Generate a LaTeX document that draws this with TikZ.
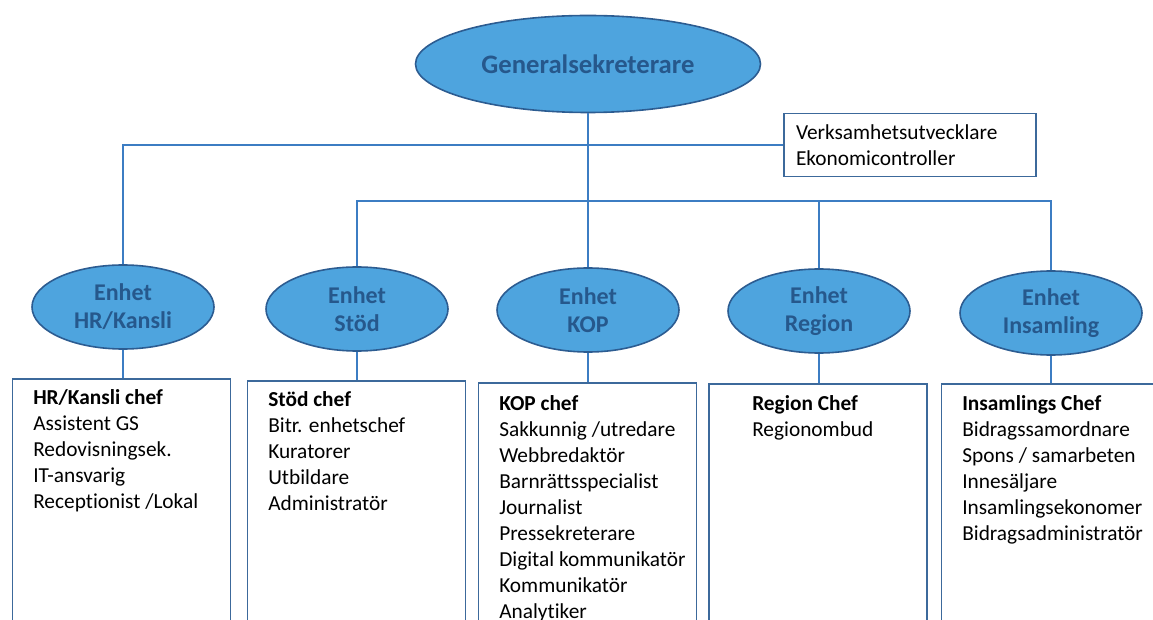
\documentclass[tikz,border=0pt]{standalone}
\usepackage{fontspec}
\setmainfont{Carlito}[Ligatures=NoCommon]
\usetikzlibrary{shapes.geometric}
\definecolor{efill}{RGB}{78,164,222}
\definecolor{eborder}{RGB}{44,92,145}
\definecolor{etext}{RGB}{38,88,140}
\definecolor{conn}{RGB}{60,125,195}
\definecolor{bborder}{RGB}{60,105,155}
\begin{document}
\begin{tikzpicture}[x=0.75pt,y=-0.75pt,
  topell/.style={ellipse, draw=eborder, line width=1.2pt, fill=efill, minimum width=258.75pt, minimum height=72.75pt, inner sep=0pt, text=etext, font=\fontsize{20}{24}\selectfont\bfseries},
  unit/.style={ellipse, draw=eborder, line width=1.2pt, fill=efill, minimum width=136.5pt, minimum height=63pt, inner sep=0pt, text=etext, font=\fontsize{18}{21}\selectfont\bfseries, align=center},
  unitbox/.style={rectangle, draw=bborder, line width=1pt, minimum width=163.5pt, minimum height=195pt, inner sep=0pt},
  sidebox/.style={rectangle, draw=bborder, line width=1pt, minimum width=189pt, minimum height=47.25pt, text width=171pt, inner xsep=9pt, inner ysep=0pt, align=left, font=\fontsize{16}{19.5}\selectfont},
  stafflist/.style={anchor=north west, align=left, inner sep=0pt, font=\fontsize{16}{19.5}\selectfont, text=black},
  connector/.style={draw=conn, line width=0.8pt}
]
\useasboundingbox (0,0) rectangle (1153,620);
\clip (0,0) rectangle (1153,620);

% top
\node[topell] (gs) at (588,64) {Generalsekreterare};
\node[sidebox] (vb) at (910,145) {Verksamhetsutvecklare\\Ekonomicontroller};
\coordinate (j2) at (588,201);

% units
\node[unit] (hr)   at (123,307) {Enhet\\HR/Kansli};
\node[unit] (stod) at (357,309) {Enhet\\Stöd};
\node[unit] (kop)  at (588,310) {Enhet\\KOP};
\node[unit] (reg)  at (819,311) {Enhet\\Region};
\node[unit] (ins)  at (1051,313) {Enhet\\Insamling};

% boxes
\node[unitbox] (hrbox)   at (121.5,509) {};
\node[unitbox] (stodbox) at (356.5,511) {};
\node[unitbox] (kopbox)  at (587.5,513) {};
\node[unitbox] (regbox)  at (818,514) {};
\node[unitbox] (insbox)  at (1050.5,514) {};

% lists
\node[stafflist] (hrlist) at (33,389) {\textbf{HR/Kansli chef}\\Assistent GS\\Redovisningsek.\\IT-ansvarig\\Receptionist /Lokal};
\node[stafflist] (stodlist) at (268,391) {\textbf{Stöd chef}\\Bitr. enhetschef\\Kuratorer\\Utbildare\\Administratör};
\node[stafflist] (koplist) at (499,395) {\textbf{KOP chef}\\Sakkunnig /utredare\\Webbredaktör\\Barnrättsspecialist\\Journalist\\Pressekreterare\\Digital kommunikatör\\Kommunikatör\\Analytiker};
\node[stafflist] (reglist) at (752,395) {\textbf{Region Chef}\\Regionombud};
\node[stafflist] (inslist) at (962,395) {\textbf{Insamlings Chef}\\Bidragssamordnare\\Spons / samarbeten\\Innesäljare\\Insamlingsekonomer\\Bidragsadministratör};

% connectors
\draw[connector] (gs.south) -- (j2);
\draw[connector] (vb.west) -| (hr.north);
\draw[connector] (stod.north) |- (j2) -| (ins.north);
\draw[connector] (j2) -- (kop.north);
\draw[connector] (reg.north) -- (reg.north |- j2);
\draw[connector] (hr.south) -- (hr.south |- hrbox.north);
\draw[connector] (stod.south) -- (stod.south |- stodbox.north);
\draw[connector] (kop.south) -- (kop.south |- kopbox.north);
\draw[connector] (reg.south) -- (reg.south |- regbox.north);
\draw[connector] (ins.south) -- (ins.south |- insbox.north);
\end{tikzpicture}
\end{document}
